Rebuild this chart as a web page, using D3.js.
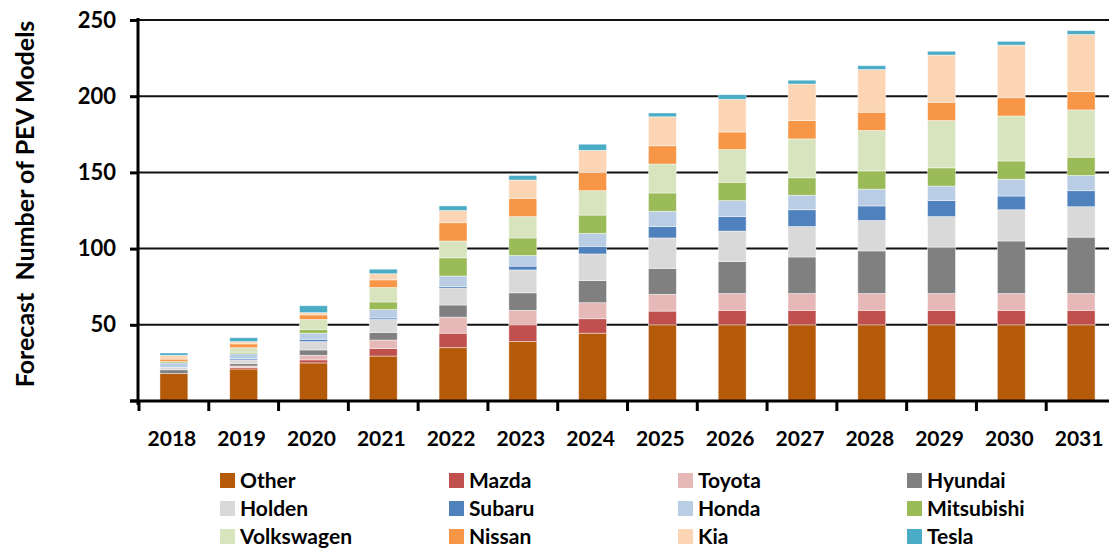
<!DOCTYPE html>
<html>
<head>
<meta charset="utf-8">
<script src="https://cdn.jsdelivr.net/npm/d3@7"></script>
<style>
  body { margin: 0; background: #fff; }
  svg { display: block; font-family: Lato, "Open Sans", sans-serif; font-weight: bold; }
  .grid line { stroke: #111; stroke-width: 2; }
  .axis-line { stroke: #000; stroke-width: 3; }
  .tick-mark { stroke: #000; stroke-width: 3; }
  .cell { stroke: #fff; stroke-width: 0.8; stroke-opacity: 0.55; }
</style>
</head>
<body>
<svg id="chart"></svg>
<script>
      //begin: data
      var years = ["2018", "2019", "2020", "2021", "2022", "2023", "2024",
                   "2025", "2026", "2027", "2028", "2029", "2030", "2031"];

      var other      = [18, 21, 25, 29.5, 35, 39, 44.5, 50, 50, 50, 50, 50, 50, 50];
      var mazda      = [0, 1, 2, 5, 9.5, 11, 9.5, 9, 9.5, 9.5, 9.5, 9.5, 9.5, 9.5];
      var toyota     = [0, 1, 3, 5.5, 10.5, 9.5, 10.5, 11, 11, 11, 11, 11, 11, 11];
      var hyundai    = [2.5, 1.5, 3.5, 5, 8, 11.5, 14.5, 17, 21, 24, 28, 30.5, 34.5, 37];
      var holden     = [1.5, 2.5, 5.5, 8.5, 11, 15, 17.5, 20, 20, 20, 20, 20, 20.5, 20];
      var subaru     = [0, 1, 1.5, 1, 1, 2.5, 5, 7.5, 9.5, 11, 9.5, 10.5, 9, 10.5];
      var honda      = [3, 3, 4, 5.5, 7, 7, 8.5, 10, 10.5, 9.5, 11, 9.5, 11, 10];
      var mitsubishi = [1, 1, 2.5, 5, 12, 11.5, 12, 12, 12, 11.5, 12, 12, 12, 12];
      var volkswagen = [0, 3, 6.5, 9.5, 11, 14, 16, 19, 21.5, 25.5, 26.5, 31, 29.5, 31];
      var nissan     = [1.5, 2.5, 3, 5, 12, 12, 12, 12, 11.5, 12, 12, 12, 12, 12];
      var kia        = [2.5, 1.5, 1.5, 4, 8, 12, 14.5, 19, 21.5, 24, 28, 31, 34.5, 37.5];
      var tesla      = [1.5, 2.5, 4.5, 3, 3, 3, 4, 2.5, 3, 2.5, 2.5, 2.5, 2.5, 2.5];

      var makers = ["Other", "Mazda", "Toyota", "Hyundai", "Holden", "Subaru",
                    "Honda", "Mitsubishi", "Volkswagen", "Nissan", "Kia", "Tesla"];
      var makerValues = [other, mazda, toyota, hyundai, holden, subaru,
                         honda, mitsubishi, volkswagen, nissan, kia, tesla];
      var makerColors = ["#b55a09", "#c0504d", "#e6b9b8", "#808080", "#d9d9d9", "#4f81bd",
                         "#b9cde5", "#9bbb59", "#d7e4bd", "#f79646", "#fcd5b5", "#4bacc6"];

      var yTickValues = [50, 100, 150, 200, 250];
      var yTitle = "Forecast  Number of PEV Models";
      //end: data

      //begin: layout conf.
      var svgWidth = 1109,
          svgHeight = 551,
          plotLeft = 138,
          plotRight = 1116,
          plotTop = 20,
          plotBottom = 401,
          legendX = 220,
          legendY = 473,
          legendColStep = 229,
          legendRowStep = 28,
          swatchSize = 15;
      //end: layout conf.

      var svg = d3.select("#chart")
        .attr("width", svgWidth)
        .attr("height", svgHeight);

      var rows = years.map(function(y, i) {
        var row = {year: y};
        makers.forEach(function(m, k) { row[m] = makerValues[k][i]; });
        return row;
      });

      var stacked = d3.stack().keys(makers)(rows);

      var x = d3.scaleBand()
        .domain(years)
        .range([plotLeft + 1, plotRight])
        .paddingInner(0.6)
        .paddingOuter(0.3);

      var y = d3.scaleLinear()
        .domain([0, 250])
        .range([plotBottom, plotTop]);

      var color = d3.scaleOrdinal().domain(makers).range(makerColors);

      //begin: gridlines
      svg.append("g")
        .classed("grid", true)
        .selectAll("line")
        .data(yTickValues)
        .enter().append("line")
          .attr("x1", plotLeft)
          .attr("x2", svgWidth)
          .attr("y1", function(d){ return y(d); })
          .attr("y2", function(d){ return y(d); });
      //end: gridlines

      //begin: bars
      var layers = svg.append("g")
        .classed("bars", true)
        .selectAll("g")
        .data(stacked)
        .enter().append("g")
          .style("fill", function(d){ return color(d.key); });

      layers.selectAll("rect")
        .data(function(d){ return d.filter(function(s){ return s[1] - s[0] > 0; }); })
        .enter().append("rect")
          .classed("cell", true)
          .attr("x", function(d){ return x(d.data.year); })
          .attr("width", x.bandwidth())
          .attr("y", function(d){ return y(d[1]); })
          .attr("height", function(d){ return y(d[0]) - y(d[1]); });
      //end: bars

      //begin: y axis
      var yAxis = d3.axisLeft(y)
        .tickValues(yTickValues)
        .tickSize(8)
        .tickPadding(14)
        .tickFormat(d3.format("d"));

      var yAxisG = svg.append("g")
        .attr("transform", "translate(" + [plotLeft, 0] + ")")
        .call(yAxis);
      yAxisG.select(".domain").remove();
      yAxisG.selectAll(".tick line").classed("tick-mark", true);
      yAxisG.selectAll(".tick text")
        .style("font-size", "22px")
        .style("font-family", "Lato, sans-serif")
        .style("font-weight", "bold")
        .attr("fill", "#000");

      // zero tick has no label
      svg.append("line")
        .classed("tick-mark", true)
        .attr("x1", plotLeft - 8).attr("x2", plotLeft)
        .attr("y1", y(0)).attr("y2", y(0));

      svg.append("line")
        .classed("axis-line", true)
        .attr("x1", plotLeft).attr("x2", plotLeft)
        .attr("y1", y(250) - 2).attr("y2", y(0) + 4);
      //end: y axis

      //begin: x axis
      svg.append("line")
        .classed("axis-line", true)
        .attr("x1", plotLeft - 8).attr("x2", svgWidth)
        .attr("y1", y(0)).attr("y2", y(0));

      var step = x.step();
      svg.append("g")
        .selectAll("line")
        .data(years)
        .enter().append("line")
          .classed("tick-mark", true)
          .attr("x1", function(d){ return x(d) + x.bandwidth()/2 - step/2; })
          .attr("x2", function(d){ return x(d) + x.bandwidth()/2 - step/2; })
          .attr("y1", y(0))
          .attr("y2", y(0) + 10);

      svg.append("g")
        .selectAll("text")
        .data(years)
        .enter().append("text")
          .attr("x", function(d){ return x(d) + x.bandwidth()/2 - 2; })
          .attr("y", 446)
          .attr("text-anchor", "middle")
          .style("font-size", "21px")
          .text(function(d){ return d; });
      //end: x axis

      //begin: y title
      svg.append("text")
        .attr("transform", "translate(" + [34, 204] + ") rotate(-90)")
        .attr("text-anchor", "middle")
        .style("font-size", "25px")
        .style("white-space", "pre")
        .text(yTitle);
      //end: y title

      //begin: legend
      var legend = svg.append("g")
        .classed("legend", true)
        .selectAll("g")
        .data(makers)
        .enter().append("g")
          .attr("transform", function(d, i){
            return "translate(" + [legendX + (i % 4)*legendColStep, legendY + Math.floor(i/4)*legendRowStep] + ")";
          });

      legend.append("rect")
        .attr("width", swatchSize)
        .attr("height", swatchSize)
        .style("fill", function(d){ return color(d); });

      legend.append("text")
        .attr("x", swatchSize + 5)
        .attr("y", swatchSize - 0.5)
        .style("font-size", "21px")
        .text(function(d){ return d; });
      //end: legend
</script>
</body>
</html>
